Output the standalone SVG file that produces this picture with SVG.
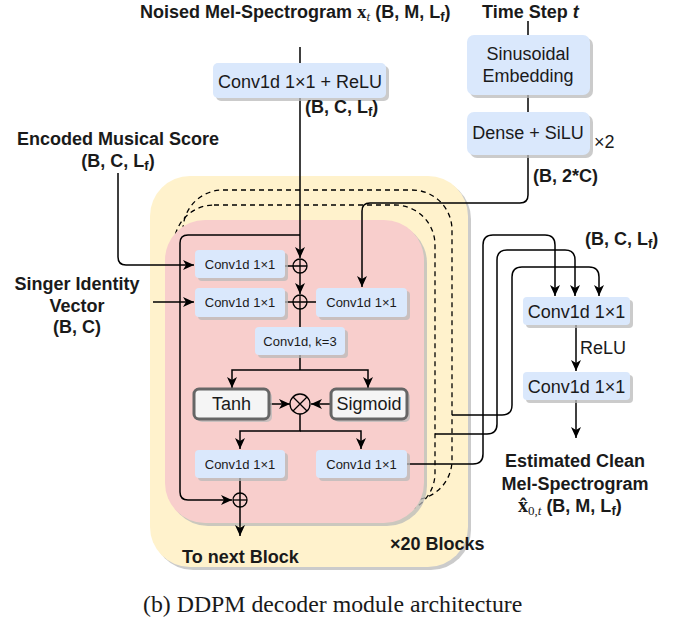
<svg xmlns="http://www.w3.org/2000/svg" width="688" height="623" viewBox="0 0 688 623">
<style>
text{font-family:"Liberation Sans",Arial,sans-serif;fill:#1a1a1a}
.b{font-weight:bold}
.t18{font-size:18px}
.t13{font-size:13px}
.blue{fill:#dae8fc}
.sh{fill:#b9b9b9;opacity:.75}
.gray{fill:#f5f5f5;stroke:#666;stroke-width:3}
.ln{fill:none;stroke:#000;stroke-width:1.5}
.dash{fill:none;stroke:#000;stroke-width:1.3;stroke-dasharray:5 4}
.op{fill:none;stroke:#000;stroke-width:1.3}
.math{font-family:"Liberation Serif","DejaVu Serif",serif}
.cap{font-family:"Liberation Serif","Times New Roman",serif;font-size:23.8px}
</style>
<defs>
<marker id="ah" markerUnits="userSpaceOnUse" markerWidth="12" markerHeight="10" refX="11" refY="5" orient="auto">
<path d="M0,0 L11,5 L0,10 L3,5 z" fill="#000"/>
</marker>
</defs>
<rect width="688" height="623" fill="#fff"/>

<g id="block-container">
<rect class="sh" x="153" y="179" width="318" height="391" rx="40"/>
<rect x="150" y="176" width="318" height="391" rx="40" fill="#fff2cc"/>
<rect class="dash" x="183" y="190" width="269" height="310" rx="40"/>
<rect class="dash" x="174" y="205" width="261" height="308" rx="40"/>
<rect class="sh" x="168" y="223" width="259" height="303" rx="40"/>
<rect x="165" y="220" width="259" height="303" rx="40" fill="#f8cecc"/>
</g>

<g id="connectors">
<path class="ln" d="M300,47 V63"/>
<path class="ln" d="M300,98 V258" marker-end="url(#ah)"/>
<path class="ln" d="M300,273 V294" marker-end="url(#ah)"/>
<path class="ln" d="M300,309 V327"/>
<path class="ln" d="M300,355 V370"/>
<path class="ln" d="M300,370 H232 V388" marker-end="url(#ah)"/>
<path class="ln" d="M300,370 H368 V388" marker-end="url(#ah)"/>
<path class="ln" d="M269,404 H290" marker-end="url(#ah)"/>
<path class="ln" d="M331,404 H311" marker-end="url(#ah)"/>
<path class="ln" d="M300,414 V431 H240 V449" marker-end="url(#ah)"/>
<path class="ln" d="M300,431 H361 V449" marker-end="url(#ah)"/>
<path class="ln" d="M240,478 V536" marker-end="url(#ah)"/>
<path class="ln" d="M300,235 H188 Q180,235 180,243 V492 Q180,500 188,500 H232" marker-end="url(#ah)"/>
<path class="ln" d="M118,173 V257 Q118,265 126,265 H194" marker-end="url(#ah)"/>
<path class="ln" d="M153,302 H194" marker-end="url(#ah)"/>
<path class="ln" d="M285,266 H293"/>
<path class="ln" d="M285,302 H293"/>
<path class="ln" d="M307,302 H316"/>
<path class="ln" d="M528,21 V35"/>
<path class="ln" d="M528,95 V112"/>
<path class="ln" d="M528,155 V195 Q528,203 520,203 H370 Q362,203 362,211 V287" marker-end="url(#ah)"/>
<path class="ln" d="M407,464 H473 Q483,464 483,454 V245 Q483,235 493,235 H545 Q555,235 555,245 V296" marker-end="url(#ah)"/>
<path class="ln" d="M435,434 H487 Q497,434 497,424 V260 Q497,250 507,250 H565 Q575,250 575,260 V296" marker-end="url(#ah)"/>
<path class="ln" d="M452,415 H502 Q512,415 512,405 V277 Q512,267 522,267 H589 Q599,267 599,277 V296" marker-end="url(#ah)"/>
<path class="ln" d="M576,325 V371" marker-end="url(#ah)"/>
<path class="ln" d="M576,400 V438" marker-end="url(#ah)"/>
</g>

<g id="conv-relu-in">
<rect class="sh" x="216" y="66" width="173" height="35" rx="5"/>
<rect class="blue" x="213" y="63" width="173" height="35" rx="5"/>
<text class="t18" x="300" y="88" text-anchor="middle">Conv1d 1×1 + ReLU</text>
</g>

<g id="sinusoidal">
<rect class="sh" x="470" y="38" width="123" height="60" rx="7"/>
<rect class="blue" x="467" y="35" width="123" height="60" rx="7"/>
<text class="t18" x="528" y="60" text-anchor="middle">Sinusoidal</text>
<text class="t18" x="528" y="82" text-anchor="middle">Embedding</text>
</g>

<g id="dense-silu">
<rect class="sh" x="470" y="115" width="123" height="43" rx="7"/>
<rect class="blue" x="467" y="112" width="123" height="43" rx="7"/>
<text class="t18" x="528" y="139" text-anchor="middle">Dense + SiLU</text>
<text class="t18" x="594" y="148">×2</text>
</g>

<g id="conv-score">
<rect class="sh" x="198" y="253" width="90" height="28" rx="4"/>
<rect class="blue" x="195" y="250" width="90" height="28" rx="4"/>
<text class="t13" x="240" y="269" text-anchor="middle">Conv1d 1×1</text>
</g>
<g id="conv-singer">
<rect class="sh" x="198" y="291" width="90" height="29" rx="4"/>
<rect class="blue" x="195" y="288" width="90" height="29" rx="4"/>
<text class="t13" x="240" y="307" text-anchor="middle">Conv1d 1×1</text>
</g>
<g id="conv-step">
<rect class="sh" x="319" y="291" width="91" height="29" rx="4"/>
<rect class="blue" x="316" y="288" width="91" height="29" rx="4"/>
<text class="t13" x="361.5" y="307" text-anchor="middle">Conv1d 1×1</text>
</g>
<g id="add1">
<circle class="op" cx="300" cy="266" r="7"/>
<path class="op" d="M293,266 H307 M300,259 V273"/>
</g>
<g id="add2">
<circle class="op" cx="300" cy="302" r="7"/>
<path class="op" d="M293,302 H307 M300,295 V309"/>
</g>
<g id="conv-k3">
<rect class="sh" x="258" y="330" width="90" height="28" rx="4"/>
<rect class="blue" x="255" y="327" width="90" height="28" rx="4"/>
<text class="t13" x="300" y="346" text-anchor="middle">Conv1d, k=3</text>
</g>
<g id="tanh">
<rect class="sh" x="197" y="392" width="75" height="30" rx="5"/>
<rect class="gray" x="194" y="389" width="75" height="30" rx="5"/>
<text class="t18" x="231.5" y="410" text-anchor="middle">Tanh</text>
</g>
<g id="sigmoid">
<rect class="sh" x="334" y="392" width="76" height="30" rx="5"/>
<rect class="gray" x="331" y="389" width="76" height="30" rx="5"/>
<text class="t18" x="369" y="410" text-anchor="middle">Sigmoid</text>
</g>
<g id="mult">
<circle class="op" cx="300" cy="404" r="10"/>
<path class="op" d="M293,397 L307,411 M307,397 L293,411"/>
</g>
<g id="conv-res">
<rect class="sh" x="198" y="453" width="90" height="28" rx="4"/>
<rect class="blue" x="195" y="450" width="90" height="28" rx="4"/>
<text class="t13" x="240" y="469" text-anchor="middle">Conv1d 1×1</text>
</g>
<g id="conv-skip">
<rect class="sh" x="319" y="453" width="91" height="28" rx="4"/>
<rect class="blue" x="316" y="450" width="91" height="28" rx="4"/>
<text class="t13" x="361.5" y="469" text-anchor="middle">Conv1d 1×1</text>
</g>
<g id="add3">
<circle class="op" cx="240" cy="500" r="7"/>
<path class="op" d="M233,500 H247"/>
</g>

<g id="out-conv1">
<rect class="sh" x="526" y="300" width="107" height="28" rx="4"/>
<rect class="blue" x="523" y="297" width="107" height="28" rx="4"/>
<text class="t18" x="576.5" y="318" text-anchor="middle">Conv1d 1×1</text>
</g>
<g id="out-conv2">
<rect class="sh" x="526" y="375" width="107" height="28" rx="4"/>
<rect class="blue" x="523" y="372" width="107" height="28" rx="4"/>
<text class="t18" x="576.5" y="393" text-anchor="middle">Conv1d 1×1</text>
</g>

<g id="labels">
<text class="t18 b" x="140" y="18">Noised Mel-Spectrogram <tspan class="math" font-weight="bold" font-size="19">x</tspan><tspan class="math" font-style="italic" font-weight="normal" font-size="13" dy="3">t</tspan><tspan dy="-3"> (B, M, L</tspan><tspan font-size="13" dy="3">f</tspan><tspan dy="-3">)</tspan></text>
<text class="t18 b" x="482" y="18">Time Step <tspan font-style="italic">t</tspan></text>
<text class="t18 b" x="305" y="113">(B, C, L<tspan font-size="13" dy="3">f</tspan><tspan dy="-3">)</tspan></text>
<text class="t18 b" x="533" y="182">(B, 2*C)</text>
<text class="t18 b" x="118" y="145" text-anchor="middle">Encoded Musical Score</text>
<text class="t18 b" x="118" y="167" text-anchor="middle">(B, C, L<tspan font-size="13" dy="3">f</tspan><tspan dy="-3">)</tspan></text>
<text class="t18 b" x="77" y="290" text-anchor="middle">Singer Identity</text>
<text class="t18 b" x="77" y="312" text-anchor="middle">Vector</text>
<text class="t18 b" x="77" y="333" text-anchor="middle">(B, C)</text>
<text class="t18 b" x="585" y="245">(B, C, L<tspan font-size="13" dy="3">f</tspan><tspan dy="-3">)</tspan></text>
<text class="t18" x="580" y="354">ReLU</text>
<text class="t18 b" x="575" y="467" text-anchor="middle">Estimated Clean</text>
<text class="t18 b" x="575" y="490" text-anchor="middle">Mel-Spectrogram</text>
<text class="t18 b" x="518" y="512"><tspan class="math" font-size="20">x̂</tspan><tspan class="math" font-weight="normal" font-size="13" dy="3">0,<tspan font-style="italic">t</tspan></tspan><tspan dy="-3">  (B, M, L</tspan><tspan font-size="13" dy="3">f</tspan><tspan dy="-3">)</tspan></text>
<text class="t18 b" x="182" y="563">To next Block</text>
<text class="t18 b" x="390" y="550">×20 Blocks</text>
<text class="cap" x="143" y="612">(b) DDPM decoder module architecture</text>
</g>
</svg>
